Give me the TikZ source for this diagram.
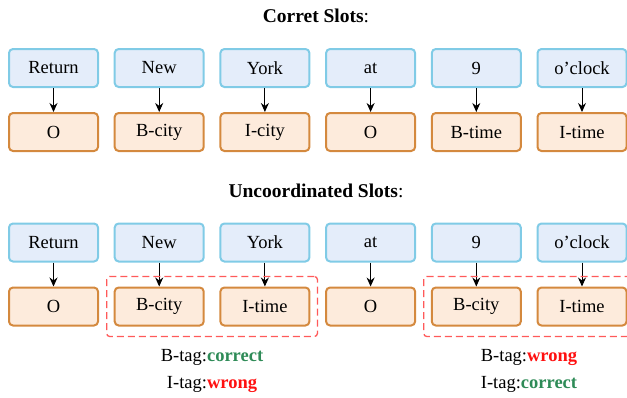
\documentclass[tikz,border=0pt]{standalone}
\usepackage{fontspec}
\setmainfont{Liberation Serif}
\usetikzlibrary{arrows.meta,fit}
\definecolor{wordfill}{HTML}{E4EDFA}
\definecolor{worddraw}{HTML}{80CBE6}
\definecolor{tagfill}{HTML}{FDEBDC}
\definecolor{tagdraw}{HTML}{D4893E}
\definecolor{okgreen}{HTML}{2E8B57}
\definecolor{badred}{HTML}{FF1010}
\definecolor{boxred}{HTML}{FF5A5A}
\tikzset{
  base/.style={rounded corners=4pt, line width=2pt, minimum width=89pt,
    minimum height=38pt, inner sep=0pt, font=\fontsize{18.5}{21}\selectfont},
  word/.style={base, fill=wordfill, draw=worddraw},
  tag/.style={base, fill=tagfill, draw=tagdraw},
  link/.style={-{Stealth[length=9pt,width=8pt]}, line width=1pt, black},
  title/.style={font=\fontsize{19.5}{22}\selectfont},
  group/.style={draw=boxred, dash pattern=on 7pt off 4pt, line width=1.3pt,
    rounded corners=3pt, inner xsep=7pt, inner ysep=10pt},
  verdict/.style={font=\fontsize{18.5}{21}\selectfont}
}
\begin{document}
\begin{tikzpicture}[x=1pt,y=-1pt]
\useasboundingbox (0,0) rectangle (627,397);

% correct slots
\node[title] (t1) at (316,16) {\textbf{Corret Slots}:};
\foreach \w/\t [count=\i from 0] in {Return/O, New/B-city, York/I-city, at/O, 9/B-time, o’clock/I-time}{
  \node[word] (a\i) at (53.5+105.7*\i,68) {\w};
  \node[tag]  (b\i) at (53.5+105.7*\i,132) {\t};
  \draw[link] (a\i) -- (b\i);
}

% uncoordinated slots
\node[title] (t2) at (316,191) {\textbf{Uncoordinated Slots}:};
\foreach \w/\t [count=\i from 0] in {Return/O, New/B-city, York/I-time, at/O, 9/B-city, o’clock/I-time}{
  \node[word] (c\i) at (53.5+105.7*\i,242.5) {\w};
  \node[tag]  (d\i) at (53.5+105.7*\i,306.5) {\t};
  \draw[link] (c\i) -- (d\i);
}

\node[group, fit=(d1)(d2)] (g1) {};
\node[group, fit=(d4)(d5)] (g2) {};

\node[verdict] (v1) at (212,357) {B-tag:\textbf{\color{okgreen}correct}};
\node[verdict] (v2) at (212,384) {I-tag:\textbf{\color{badred}wrong}};
\node[verdict] (v3) at (529,357) {B-tag:\textbf{\color{badred}wrong}};
\node[verdict] (v4) at (529,384) {I-tag:\textbf{\color{okgreen}correct}};
\end{tikzpicture}
\end{document}
